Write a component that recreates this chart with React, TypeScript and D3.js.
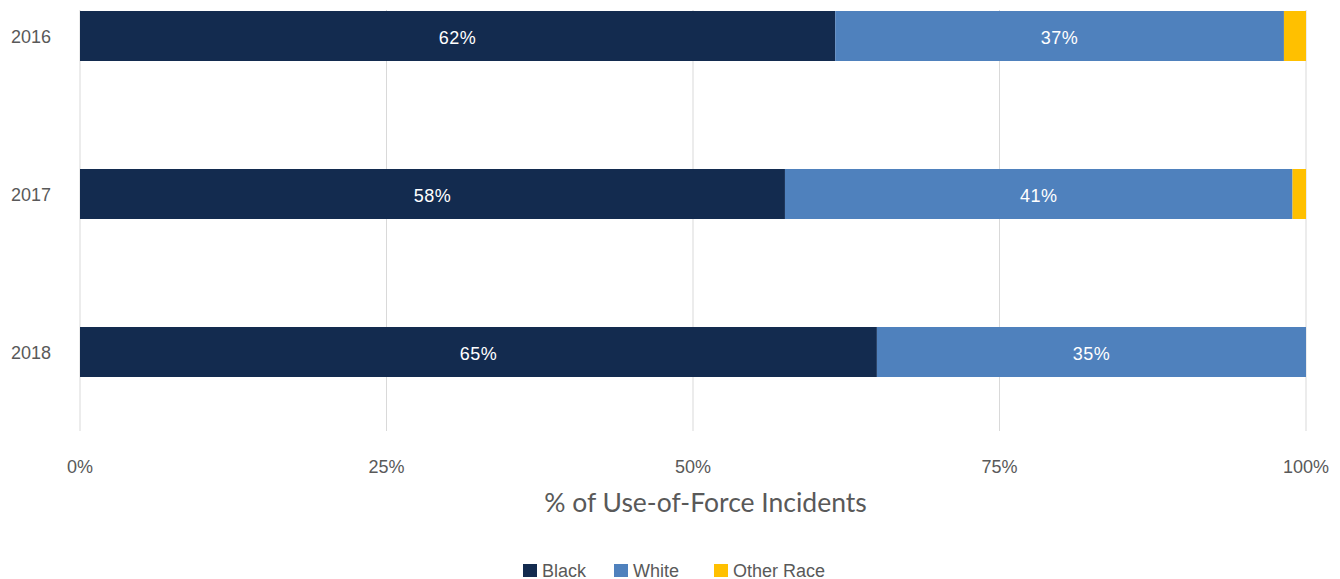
import React from "react";
import * as d3 from "d3";

const years = ["2016", "2017", "2018"];
const blackPct = [61.6, 57.5, 65.0];
const whitePct = [36.6, 41.4, 35.0];
const otherPct = [1.8, 1.1, 0];
const xTicks = [0, 25, 50, 75, 100];
const seriesNames = ["Black", "White", "Other Race"];
const seriesColors = ["#132B4F", "#4F81BD", "#FFC000"];

const W = 1340;
const H = 579;
const FONT = "'Liberation Sans', Arial, Helvetica, sans-serif";

export default function App() {
  const x = d3.scaleLinear().domain([0, 100]).range([80, 1306]);
  const y = d3
    .scaleBand<string>()
    .domain(years)
    .range([-43, 431])
    .paddingInner(108 / 158)
    .paddingOuter(54 / 158);

  const series = [blackPct, whitePct, otherPct];
  const segs: { year: string; x0: number; x1: number; color: string; v: number; i: number }[] = [];
  years.forEach((yr, yi) => {
    let acc = 0;
    series.forEach((s, si) => {
      const v = s[yi];
      segs.push({ year: yr, x0: acc, x1: acc + v, color: seriesColors[si], v, i: si });
      acc += v;
    });
  });

  const bw = y.bandwidth();
  const legendX = [523, 614, 714];

  return (
    <svg width={W} height={H} style={{ position: "absolute", left: 0, top: 0, background: "#fff" }}>
      {xTicks.map((t) => (
        <line key={"g" + t} x1={x(t)} x2={x(t)} y1={10} y2={431} stroke="#d9d9d9" strokeWidth={1} />
      ))}
      {segs
        .filter((s) => s.v > 0)
        .map((s, k) => (
          <rect
            key={"r" + k}
            x={x(s.x0)}
            y={y(s.year)!}
            width={x(s.x1) - x(s.x0)}
            height={bw}
            fill={s.color}
          />
        ))}
      {segs
        .filter((s) => s.v >= 5)
        .map((s, k) => (
          <text
            key={"l" + k}
            x={(x(s.x0) + x(s.x1)) / 2}
            y={y(s.year)! + bw / 2 + 7.5}
            textAnchor="middle"
            fontFamily={FONT}
            fontSize={18}
            letterSpacing={0.5}
            fill="#ffffff"
          >
            {Math.round(s.v) + "%"}
          </text>
        ))}
      {years.map((yr) => (
        <text
          key={"y" + yr}
          x={11}
          y={y(yr)! + bw / 2 + 6.5}
          fontFamily={FONT}
          fontSize={18}
          fill="#595959"
        >
          {yr}
        </text>
      ))}
      {xTicks.map((t) => (
        <text
          key={"t" + t}
          x={x(t)}
          y={472.5}
          textAnchor="middle"
          fontFamily={FONT}
          fontSize={18}
          fill="#595959"
        >
          {t + "%"}
        </text>
      ))}
      <text
        x={705.5}
        y={511.5}
        textAnchor="middle"
        fontFamily="Lato, 'Open Sans', sans-serif"
        fontSize={26.5}
        fill="#595959"
      >
        % of Use-of-Force Incidents
      </text>
      {seriesNames.map((n, i) => (
        <g key={"lg" + n}>
          <rect x={legendX[i]} y={564} width={14} height={13} fill={seriesColors[i]} />
          <text x={legendX[i] + 19} y={576.5} fontFamily={FONT} fontSize={18} fill="#595959">
            {n}
          </text>
        </g>
      ))}
    </svg>
  );
}
